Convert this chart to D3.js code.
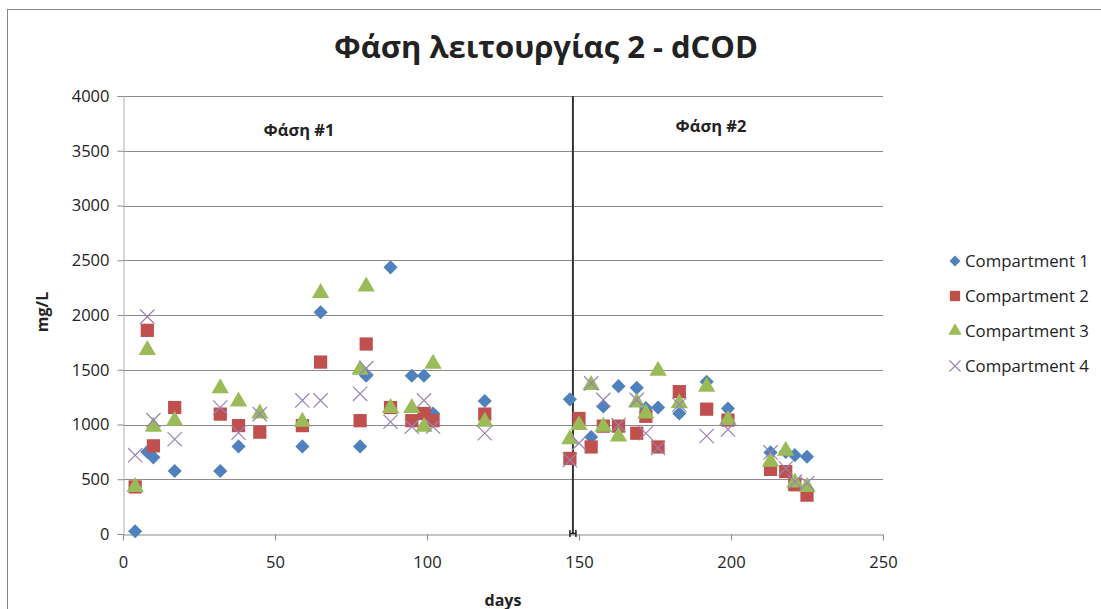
<!DOCTYPE html>
<html>
<head>
<meta charset="utf-8">
<script src="https://cdn.jsdelivr.net/npm/d3@7"></script>
<style>
body { margin: 0; background: #fff; }
text { font-family: "Open Sans", "Noto Sans", sans-serif; fill: #222; }
</style>
</head>
<body>
<div id="svg_placer"></div>
<script>
// sampling days (same for all compartments)
var days = [4, 8, 10, 17, 32, 38, 45, 59, 65, 78, 80, 88, 95, 99, 102, 119,
            147, 150, 154, 158, 163, 169, 172, 176, 183, 192, 199, 213, 218, 221, 225];

// dCOD mg/L per compartment, null = no visible value
var comp1 = [25, 750, 700, 575, 575, 800, null, 800, 2025, 800, 1445, 2435, 1445, 1445, 1100, 1215,
             1230, null, 885, 1165, 1350, 1335, 1150, 1155, 1100, 1390, 1145, 745, 750, 720, 705];
var comp2 = [430, 1860, 805, 1155, 1095, 990, 930, 990, 1570, 1035, 1735, 1155, 1035, 1100, 1035, 1095,
             690, 1055, 795, 985, 985, 920, 1075, 795, 1300, 1140, 1040, 590, 570, 450, 355];
var comp3 = [430, 1680, 980, 1035, 1330, 1210, 1100, 1025, 2200, 1500, 2260, 1150, 1150, 980, 1555, 1025,
             865, 995, 1360, 980, 890, 1200, 1100, 1490, 1195, 1345, 1040, 660, 760, 470, 430];
var comp4 = [720, 1985, 1040, 865, 1155, 925, 1095, 1220, 1220, 1280, 1515, 1025, 980, 1220, 980, 920,
             675, 830, 1375, 1225, 995, 1225, 920, 785, 1180, 895, 955, 745, 600, 478, 463];

var seriesNames = ['Compartment 1', 'Compartment 2', 'Compartment 3', 'Compartment 4'];
var phaseDay = 148;
var phaseLabels = ['Φάση #1', 'Φάση #2'];
var xTicks = [0, 50, 100, 150, 200, 250];
var yTicks = [0, 500, 1000, 1500, 2000, 2500, 3000, 3500, 4000];

var
width = 1101,
height = 609,
pLeft = 123, pRight = 883,
pTop = 96, pBottom = 534
;

var colors = ['#4f81bd', '#c0504d', '#9bbb59', '#9883b9'];
var shapes = [d3.symbolSquare, d3.symbolSquare, d3.symbolTriangle, d3.symbolX];
var sizes = [100, 175, 130, 135];
var rot = [45, 0, 0, 0];

var series = [comp1, comp2, comp3, comp4].map(function(vals, i){
    return {
        name: seriesNames[i],
        idx: i,
        points: days.map(function(d, j){ return {day: d, value: vals[j]}; })
                    .filter(function(p){ return p.value != null; })
    };
});

var x = d3.scaleLinear().domain([0, 250]).range([pLeft, pRight]);
var y = d3.scaleLinear().domain([0, 4000]).range([pBottom, pTop]);

var svg = d3.select('#svg_placer').append('svg').attr('width', width).attr('height', height);

// chart frame
svg.append('rect').attr('x', 7.5).attr('y', 9.5).attr('width', 1110).attr('height', 640)
    .attr('fill', 'none').attr('stroke', '#868686').attr('stroke-width', 1);

// gridlines
svg.append('g').selectAll('line').data(yTicks.slice(1)).enter().append('line')
    .attr('x1', pLeft).attr('x2', pRight)
    .attr('y1', function(d){ return Math.round(y(d)) + 0.5; })
    .attr('y2', function(d){ return Math.round(y(d)) + 0.5; })
    .attr('stroke', '#8c8c8c').attr('stroke-width', 1);

// y axis
var yAxis = svg.append('g').attr('transform', 'translate(' + (pLeft + 0.5) + ',0)')
    .call(d3.axisLeft(y).tickValues(yTicks).tickFormat(d3.format('d')).tickSize(6).tickPadding(8));
yAxis.select('.domain').attr('stroke', '#b0b0b0');
yAxis.selectAll('.tick line').attr('stroke', '#8c8c8c');
yAxis.selectAll('text').style('font-size', '16.5px').attr('fill', '#222');

// x axis
var xAxis = svg.append('g').attr('transform', 'translate(0,' + (pBottom + 0.5) + ')')
    .call(d3.axisBottom(x).tickValues(xTicks).tickSize(6).tickPadding(16));
xAxis.select('.domain').attr('stroke', '#8c8c8c');
xAxis.selectAll('.tick line').attr('stroke', '#8c8c8c');
xAxis.selectAll('text').style('font-size', '16.5px').attr('fill', '#222');

// phase separator
svg.append('line')
    .attr('x1', x(phaseDay)).attr('x2', x(phaseDay))
    .attr('y1', pTop).attr('y2', pBottom)
    .attr('stroke', '#333').attr('stroke-width', 2);
svg.append('path')
    .attr('d', 'M' + (x(phaseDay) - 3) + ',' + (pBottom - 4) + 'v7M' + (x(phaseDay) + 3) + ',' + (pBottom - 4) + 'v7M' + (x(phaseDay) - 3) + ',' + (pBottom - 0.5) + 'h6')
    .attr('stroke', '#222').attr('stroke-width', 1.5).attr('fill', 'none');

// phase labels
svg.append('text').attr('x', 299).attr('y', 136).attr('text-anchor', 'middle')
    .style('font-size', '16.5px').style('font-weight', 'bold').text(phaseLabels[0]);
svg.append('text').attr('x', 711).attr('y', 132).attr('text-anchor', 'middle')
    .style('font-size', '16.5px').style('font-weight', 'bold').text(phaseLabels[1]);

// markers
function markerAttrs(sel, i){
    sel.attr('d', d3.symbol().type(shapes[i]).size(sizes[i]))
        .attr('fill', i == 3 ? 'none' : colors[i])
        .attr('stroke', colors[i])
        .attr('stroke-width', i == 3 ? 1.2 : 0);
}

var groups = svg.selectAll('g.series').data(series).enter().append('g').attr('class', 'series');
groups.each(function(s){
    d3.select(this).selectAll('path').data(s.points).enter().append('path')
        .attr('transform', function(p){ return 'translate(' + x(p.day) + ',' + y(p.value) + ') rotate(' + rot[s.idx] + ')'; })
        .call(markerAttrs, s.idx);
});

// legend
var legend = svg.append('g').selectAll('g').data(series).enter().append('g')
    .attr('transform', function(s){ return 'translate(955,' + (261 + s.idx * 35) + ')'; });
legend.append('path')
    .attr('transform', function(s){ return 'rotate(' + rot[s.idx] + ')'; })
    .each(function(s){ d3.select(this).call(markerAttrs, s.idx); })
    .attr('d', function(s){ return d3.symbol().type(shapes[s.idx]).size(sizes[s.idx] * 0.6)(); });
legend.append('text').attr('x', 10).attr('y', 5.5)
    .style('font-size', '16.8px').text(function(s){ return s.name; });

// titles
svg.append('text').attr('x', 546).attr('y', 58).attr('text-anchor', 'middle')
    .style('font-size', '31px').style('font-weight', 'bold').text('Φάση λειτουργίας 2 - dCOD');
svg.append('text').attr('transform', 'translate(48,312) rotate(-90)').attr('text-anchor', 'middle')
    .style('font-size', '16px').style('font-weight', 'bold').text('mg/L');
svg.append('text').attr('x', 503).attr('y', 606).attr('text-anchor', 'middle')
    .style('font-size', '16px').style('font-weight', 'bold').text('days');
</script>
</body>
</html>
